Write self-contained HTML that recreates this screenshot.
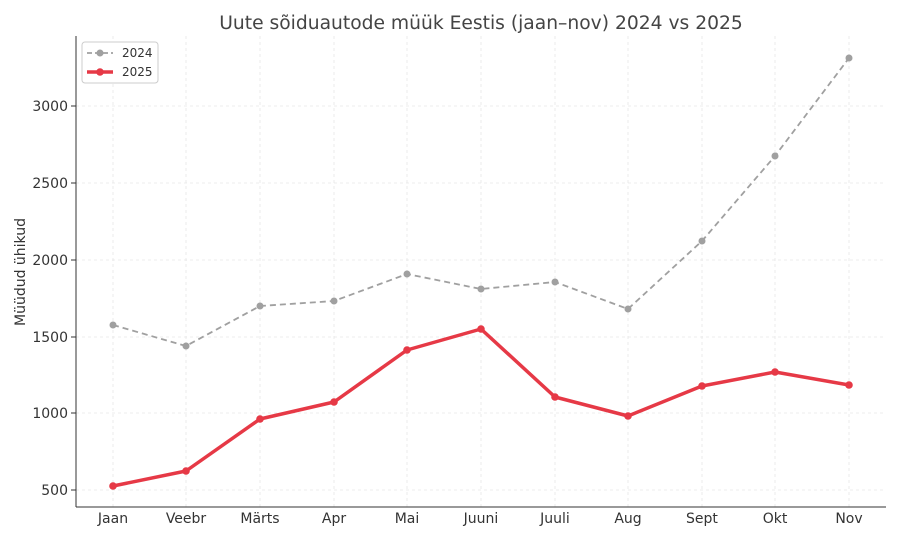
<!DOCTYPE html>
<html><head><meta charset="utf-8"><style>
body{margin:0;background:#fff;}
svg{display:block;font-family:"DejaVu Sans","Liberation Sans",sans-serif;}
</style></head><body>
<svg width="900" height="540" viewBox="0 0 900 540" xmlns="http://www.w3.org/2000/svg">
<rect width="900" height="540" fill="#fff"/>
<g stroke="#e6e6e6" stroke-dasharray="3,3" stroke-width="0.8">
<line x1="76" x2="886" y1="106" y2="106"/><line x1="76" x2="886" y1="183" y2="183"/>
<line x1="76" x2="886" y1="260" y2="260"/><line x1="76" x2="886" y1="337" y2="337"/>
<line x1="76" x2="886" y1="413" y2="413"/><line x1="76" x2="886" y1="490" y2="490"/>
<line x1="113" x2="113" y1="36" y2="507"/><line x1="186" x2="186" y1="36" y2="507"/>
<line x1="260" x2="260" y1="36" y2="507"/><line x1="334" x2="334" y1="36" y2="507"/>
<line x1="407" x2="407" y1="36" y2="507"/><line x1="481" x2="481" y1="36" y2="507"/>
<line x1="555" x2="555" y1="36" y2="507"/><line x1="628" x2="628" y1="36" y2="507"/>
<line x1="702" x2="702" y1="36" y2="507"/><line x1="775" x2="775" y1="36" y2="507"/>
<line x1="849" x2="849" y1="36" y2="507"/>
</g>
<g stroke="#333" stroke-width="1"><line x1="76" y1="36" x2="76" y2="507"/><line x1="76" y1="507" x2="886" y2="507"/></g>
<g stroke="#333"><line x1="71" x2="76" y1="106" y2="106"/><line x1="71" x2="76" y1="183" y2="183"/><line x1="71" x2="76" y1="260" y2="260"/><line x1="71" x2="76" y1="337" y2="337"/><line x1="71" x2="76" y1="413" y2="413"/><line x1="71" x2="76" y1="490" y2="490"/></g>
<g font-size="14" fill="#333" text-anchor="end">
<text x="68" y="111">3000</text><text x="68" y="188">2500</text><text x="68" y="265">2000</text><text x="68" y="342">1500</text><text x="68" y="418">1000</text><text x="68" y="495">500</text></g>
<g font-size="14" fill="#333" text-anchor="middle">
<text x="113" y="523">Jaan</text><text x="186" y="523">Veebr</text><text x="260" y="523">Märts</text><text x="334" y="523">Apr</text><text x="407" y="523">Mai</text><text x="481" y="523">Juuni</text><text x="555" y="523">Juuli</text><text x="628" y="523">Aug</text><text x="702" y="523">Sept</text><text x="775" y="523">Okt</text><text x="849" y="523">Nov</text></g>
<text x="481" y="29" font-size="18.7" fill="#444" text-anchor="middle">Uute sõiduautode müük Eestis (jaan–nov) 2024 vs 2025</text>
<text transform="translate(25,272) rotate(-90)" font-size="14" fill="#333" text-anchor="middle">Müüdud ühikud</text>
<polyline fill="none" stroke="#a0a0a0" stroke-width="1.8" stroke-dasharray="6,4" points="113,325 186,346 260,306 334,301 407,274 481,289 555,282 628,309 702,241 775,156 849,58"/>
<g fill="#a0a0a0"><circle cx="113" cy="325" r="3.5"/><circle cx="186" cy="346" r="3.5"/><circle cx="260" cy="306" r="3.5"/><circle cx="334" cy="301" r="3.5"/><circle cx="407" cy="274" r="3.5"/><circle cx="481" cy="289" r="3.5"/><circle cx="555" cy="282" r="3.5"/><circle cx="628" cy="309" r="3.5"/><circle cx="702" cy="241" r="3.5"/><circle cx="775" cy="156" r="3.5"/><circle cx="849" cy="58" r="3.5"/></g>
<polyline fill="none" stroke="#e63946" stroke-width="3.5" stroke-linejoin="round" points="113,486 186,471 260,419 334,402 407,350 481,329 555,397 628,416 702,386 775,372 849,385"/>
<g fill="#e63946"><circle cx="113" cy="486" r="3.8"/><circle cx="186" cy="471" r="3.8"/><circle cx="260" cy="419" r="3.8"/><circle cx="334" cy="402" r="3.8"/><circle cx="407" cy="350" r="3.8"/><circle cx="481" cy="329" r="3.8"/><circle cx="555" cy="397" r="3.8"/><circle cx="628" cy="416" r="3.8"/><circle cx="702" cy="386" r="3.8"/><circle cx="775" cy="372" r="3.8"/><circle cx="849" cy="385" r="3.8"/></g>
<rect x="82" y="42" width="76" height="41" rx="3" fill="#fff" stroke="#ccc"/>
<line x1="87" x2="113" y1="53" y2="53" stroke="#a0a0a0" stroke-width="1.8" stroke-dasharray="5,3"/><circle cx="100" cy="53" r="3.5" fill="#a0a0a0"/>
<text x="122" y="57" font-size="12" fill="#333">2024</text>
<line x1="87" x2="113" y1="72" y2="72" stroke="#e63946" stroke-width="3.5"/><circle cx="100" cy="72" r="3.8" fill="#e63946"/>
<text x="122" y="76" font-size="12" fill="#333">2025</text>
</svg>
</body></html>
